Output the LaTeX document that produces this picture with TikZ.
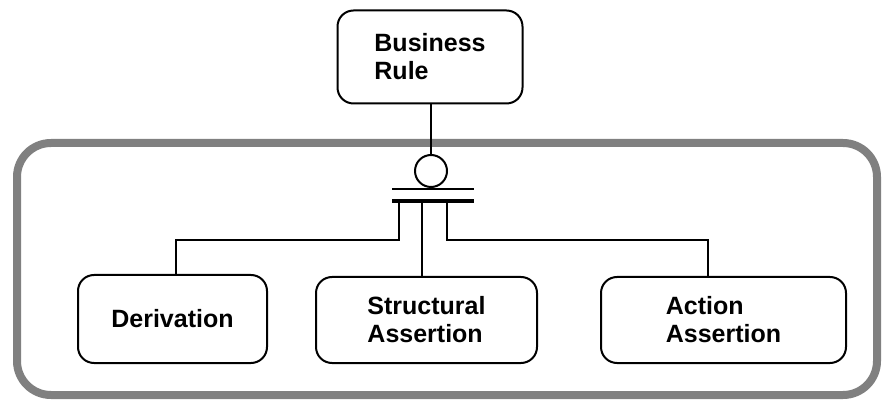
\documentclass[tikz,border=0pt]{standalone}
\usepackage{fontspec}
\setmainfont{Liberation Sans}
\usetikzlibrary{positioning}
\tikzset{
  rulebox/.style={draw, line width=1pt, rounded corners=8pt, inner sep=0pt,
    align=left, font=\fontsize{12.5}{14}\selectfont\bfseries},
}
\begin{document}
\begin{tikzpicture}[x=0.5pt,y=-0.5pt]
  \useasboundingbox (0,0) rectangle (882,405);
  \draw[line width=4pt, gray, rounded corners=17pt] (17,143) rectangle (877,395);
  \node[rulebox, minimum width=92.5pt, minimum height=46.5pt] (br) at (430,57) {Business\\Rule};
  \node[rulebox, minimum width=94.5pt, minimum height=44pt] (deriv) at (172.5,319) {Derivation};
  \node[rulebox, minimum width=110.5pt, minimum height=43pt] (struct) at (426.5,320) {Structural\\Assertion};
  \node[rulebox, minimum width=122.5pt, minimum height=43pt] (action) at (723.5,320) {Action\\Assertion};
  \node[draw, circle, line width=1pt, minimum size=16pt, inner sep=0pt] (circ) at (431,171) {};
  % bars of the split
  \coordinate (barA) at (392,189);
  \coordinate (barB) at (392,201);
  \coordinate (legL) at (399,201);
  \coordinate (legM) at (422,201);
  \coordinate (legR) at (447,201);
  \draw[line width=1pt] (br.south -| circ) -- (circ);
  \draw[line width=1pt] (barA) -- ++(82,0);
  \draw[line width=1.8pt] (barB) -- ++(82,0);
  \draw[line width=0.8pt] (legL) -- ++(0,39) -| (deriv.north -| 176,0);
  \draw[line width=1pt] (legM) -- (legM |- struct.north);
  \draw[line width=1.3pt] (legR) -- ++(0,39) -| (action.north -| 708,0);
\end{tikzpicture}
\end{document}
